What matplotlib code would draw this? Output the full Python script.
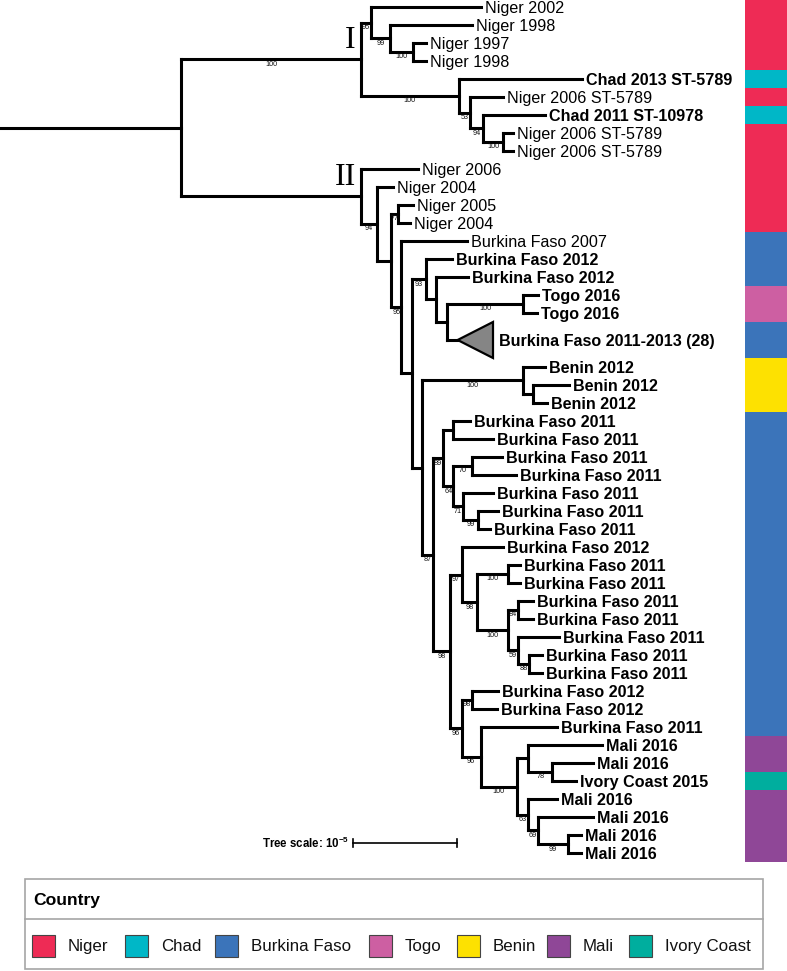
import matplotlib
matplotlib.use("Agg")
import matplotlib.pyplot as plt
from matplotlib.collections import LineCollection
from matplotlib.patches import Polygon, Rectangle

plt.rcParams["mathtext.fontset"] = "custom"
plt.rcParams["mathtext.bf"] = "Liberation Sans:bold"
plt.rcParams["mathtext.rm"] = "Liberation Sans"
plt.rcParams["mathtext.default"] = "bf"

# ---- data -------------------------------------------------------------
# internal nodes: id, parent, depth (units of 1e-5 subst/site from root), bootstrap
node_ids = ["root", "I", "A", "B", "C", "D", "E", "F", "G",
            "II", "H", "J", "K", "L", "M", "N", "P", "Q", "R",
            "O", "S", "SB", "T", "U", "V", "W", "X", "Y", "Z",
            "AA", "AB", "AD", "AE", "AF", "AG", "AH", "AI",
            "AC", "AJ", "AK", "AL", "AM", "AO", "AN", "AP", "AQ"]
node_parent = [None, "root", "I", "A", "B", "I", "D", "E", "F",
               "root", "II", "H", "J", "J", "L", "M", "N", "P", "Q",
               "M", "O", "S", "O", "T", "U", "U", "W", "W", "Y",
               "T", "AA", "AB", "AD", "AD", "AF", "AF", "AH",
               "AA", "AC", "AC", "AK", "AL", "AM", "AL", "AN", "AP"]
node_depth = [0.00, 1.73, 1.83, 2.01, 2.23, 2.67, 2.78, 2.90, 3.10,
              1.73, 1.88, 2.02, 2.09, 2.12, 2.22, 2.36, 2.45, 2.56, 3.29,
              2.32, 3.29, 3.38, 2.42, 2.52, 2.62, 2.62, 2.80, 2.71, 2.86,
              2.59, 2.70, 2.85, 3.14, 3.14, 3.24, 3.24, 3.35,
              2.70, 2.80, 2.88, 3.23, 3.34, 3.57, 3.34, 3.43, 3.72]
node_support = [None, 100, 95, 99, 100, 100, 53, 94, 100,
                None, 94, None, 77, 95, None, 93, None, None, 100,
                None, 100, None, 87, 89, None, 64, 70, 71, 99,
                98, 97, 98, 100, 100, 84, 59, 88,
                96, 98, 96, 100, None, 78, 63, 69, 99]
root_stub = 1.74

# leaves, top to bottom
leaf_labels = ["Niger 2002", "Niger 1998", "Niger 1997", "Niger 1998",
               "Chad 2013 ST-5789", "Niger 2006 ST-5789", "Chad 2011 ST-10978",
               "Niger 2006 ST-5789", "Niger 2006 ST-5789",
               "Niger 2006", "Niger 2004", "Niger 2005", "Niger 2004",
               "Burkina Faso 2007", "Burkina Faso 2012", "Burkina Faso 2012",
               "Togo 2016", "Togo 2016", "Burkina Faso 2011-2013 (28)",
               "Benin 2012", "Benin 2012", "Benin 2012",
               "Burkina Faso 2011", "Burkina Faso 2011", "Burkina Faso 2011",
               "Burkina Faso 2011", "Burkina Faso 2011", "Burkina Faso 2011",
               "Burkina Faso 2011", "Burkina Faso 2012", "Burkina Faso 2011",
               "Burkina Faso 2011", "Burkina Faso 2011", "Burkina Faso 2011",
               "Burkina Faso 2011", "Burkina Faso 2011", "Burkina Faso 2011",
               "Burkina Faso 2012", "Burkina Faso 2012", "Burkina Faso 2011",
               "Mali 2016", "Mali 2016", "Ivory Coast 2015", "Mali 2016",
               "Mali 2016", "Mali 2016", "Mali 2016"]
leaf_country = ["Niger"] * 4 + ["Chad", "Niger", "Chad", "Niger", "Niger"] + \
               ["Niger"] * 4 + ["Burkina Faso"] * 3 + ["Togo"] * 2 + \
               ["Burkina Faso"] + ["Benin"] * 3 + ["Burkina Faso"] * 18 + \
               ["Mali", "Mali", "Ivory Coast", "Mali", "Mali", "Mali", "Mali"]
leaf_bold = [False] * 4 + [True, False, True, False, False] + [False] * 5 + [True] * 33
leaf_parent = ["A", "B", "C", "C", "D", "E", "F", "G", "G",
               "II", "H", "K", "K", "L", "N", "P", "R", "R", "Q",
               "S", "SB", "SB", "V", "V", "X", "X", "Y", "Z", "Z",
               "AB", "AE", "AE", "AG", "AG", "AH", "AI", "AI",
               "AJ", "AJ", "AK", "AM", "AO", "AO", "AN", "AP", "AQ", "AQ"]
leaf_depth = [2.88, 2.80, 2.36, 2.36, 3.86, 3.10, 3.50, 3.19, 3.19,
              2.28, 2.04, 2.23, 2.20, 2.75, 2.61, 2.76, 3.43, 3.42, 2.66,
              3.50, 3.73, 3.52, 2.78, 3.00, 3.09, 3.22, 3.00, 3.05, 2.97,
              3.10, 3.26, 3.26, 3.38, 3.38, 3.63, 3.47, 3.47,
              3.05, 3.04, 3.62, 4.05, 3.96, 3.80, 3.62, 3.96, 3.85, 3.85]
leaf_rows = [1] * 18 + [2] + [1] * 28      # collapsed clade spans two rows
collapsed_far = 3.00                        # right edge of the collapsed triangle

countries = ["Niger", "Chad", "Burkina Faso", "Togo", "Benin", "Mali", "Ivory Coast"]
country_colors = ["#EE2B55", "#00B7C7", "#3B74BA", "#CD5FA2", "#FDE101", "#8F4797", "#00AE9E"]
cmap = dict(zip(countries, country_colors))

# ---- layout -------------------------------------------------------------
W, H = 787, 971
x0_px, px_unit = 181, 104.0          # root position, pixels per 1e-5
y0_px, px_row = 7, 18.0

fig = plt.figure(figsize=(W / 100, H / 100), dpi=100)
ax = fig.add_axes([0, 0, 1, 1])
ax.set_xlim(-x0_px / px_unit, (W - x0_px) / px_unit)
ax.set_ylim((H - y0_px) / px_row, -y0_px / px_row)
ax.axis("off")

# leaf y positions
leaf_y = []
row = 0
for r in leaf_rows:
    leaf_y.append(row + (r - 1) / 2)
    row += r
strip_rows = []
for c, r in zip(leaf_country, leaf_rows):
    strip_rows += [c] * r

# internal node y = midpoint of extreme children
child_ys = {n: [] for n in node_ids}
for p, y in zip(leaf_parent, leaf_y):
    child_ys[p].append(y)
depth = dict(zip(node_ids, node_depth))
node_y = {}
for n in reversed(node_ids):       # children listed after parents
    ys = child_ys[n]
    node_y[n] = (min(ys) + max(ys)) / 2
    par = node_parent[node_ids.index(n)]
    if par is not None:
        child_ys[par].append(node_y[n])

segs = []
for n, p in zip(node_ids, node_parent):
    ys = child_ys[n]
    segs.append([(depth[n], min(ys)), (depth[n], max(ys))])
    if p is not None:
        segs.append([(depth[p], node_y[n]), (depth[n], node_y[n])])
segs.append([(-root_stub, node_y["root"]), (0, node_y["root"])])
for p, d, y in zip(leaf_parent, leaf_depth, leaf_y):
    segs.append([(depth[p], y), (d, y)])
ax.add_collection(LineCollection(segs, colors="black", linewidths=2.2,
                                 capstyle="projecting", zorder=2))

# collapsed clade triangle
ci = leaf_rows.index(2)
ty = leaf_y[ci]
ax.add_patch(Polygon([(leaf_depth[ci], ty), (collapsed_far, ty - 1), (collapsed_far, ty + 1)],
                     closed=True, facecolor="#858585", edgecolor="black", lw=1.6, zorder=3))

# leaf labels
for i, (lab, d, y, b) in enumerate(zip(leaf_labels, leaf_depth, leaf_y, leaf_bold)):
    x = (collapsed_far + 6 / px_unit) if i == ci else d + 4 / px_unit
    ax.text(x, y, lab, ha="left", va="center_baseline", fontsize=11.6,
            family="Liberation Sans", fontweight="bold" if b else "normal", color="black")

# bootstrap values, middle of the branch, just below it
for n, p, s in zip(node_ids, node_parent, node_support):
    if s is None:
        continue
    ax.text((depth[p] + depth[n]) / 2, node_y[n] + 5 / px_row, str(s), ha="center", va="center",
            fontsize=5.2, family="Liberation Sans", color="#111111")

# clade labels
for n in ["I", "II"]:
    ax.text(depth[n] - 5 / px_unit, node_y[n] - 4 / px_row, n, ha="right", va="bottom",
            fontsize=23, family="Liberation Serif", color="black")

# scale bar: 1e-5
sb_x, sb_y = (353 - x0_px) / px_unit, (843 - y0_px) / px_row
ax.plot([sb_x, sb_x + 1], [sb_y, sb_y], color="black", lw=1.2)
for xx in (sb_x, sb_x + 1):
    ax.plot([xx, xx], [sb_y - 4 / px_row, sb_y + 4 / px_row], color="black", lw=1.2)
ax.text(sb_x - 4 / px_unit, sb_y, r"Tree scale: 10$^{-5}$", ha="right", va="center",
        fontsize=8.3, fontweight="bold", family="Liberation Sans")

# country strip
sax = fig.add_axes([745 / W, 0, 1 - 745 / W, 1], sharey=ax)
sax.barh(range(len(strip_rows)), 1, height=1.0, left=0,
         color=[cmap[c] for c in strip_rows], linewidth=0)
sax.set_xlim(0, 1)
sax.axis("off")

# legend box (figure pixel coords, origin top-left)
def fx(x):
    return x / W

def fy(y):
    return 1 - y / H

fig.patches.append(Rectangle((fx(25), fy(969)), fx(763) - fx(25), fy(879) - fy(969),
                             transform=fig.transFigure, facecolor="white", edgecolor="#A5A5A5", lw=1.2))
fig.lines.append(plt.Line2D([fx(25), fx(763)], [fy(919), fy(919)], transform=fig.transFigure,
                            color="#A5A5A5", lw=1.2))
fig.text(fx(33), fy(900), "Country", ha="left", va="center", fontsize=12.6,
         fontweight="bold", family="Liberation Sans")
swatch_x = [32, 125, 215, 369, 457, 547, 629]
for sx, c in zip(swatch_x, countries):
    fig.patches.append(Rectangle((fx(sx), fy(957)), fx(23), fy(935) - fy(957),
                                 transform=fig.transFigure, facecolor=cmap[c],
                                 edgecolor="#444444", lw=0.8))
    fig.text(fx(sx + 36), fy(946), c, ha="left", va="center", fontsize=12.2,
             family="Liberation Sans", color="#111111")

fig.savefig("out.png", dpi=100)
